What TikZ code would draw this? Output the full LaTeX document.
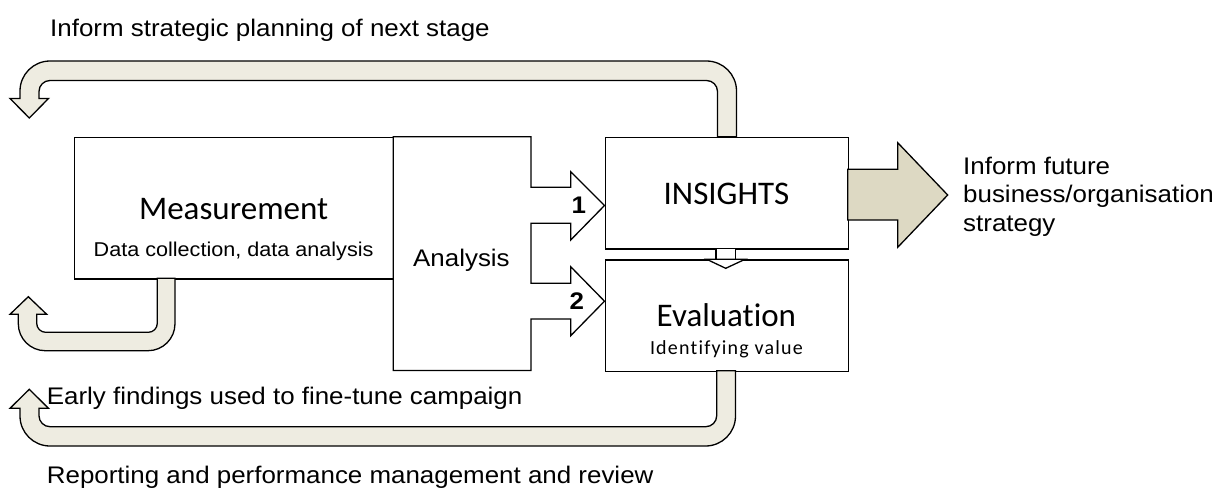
\documentclass[tikz,border=0pt]{standalone}
\usepackage{fontspec}
\newfontfamily\arialf[FakeStretch=1.08]{Liberation Sans}
\newfontfamily\calf[Ligatures=NoCommon]{Carlito}
\newfontfamily\calsp[LetterSpace=6,Ligatures=NoCommon]{Carlito}
\definecolor{bandfill}{RGB}{238,236,225}
\definecolor{bigfill}{RGB}{221,217,195}
\tikzset{
  plainbox/.style={draw=black, line width=1.3pt, fill=white, rectangle, inner sep=0pt},
  bandarrow/.style={draw=black, line width=1.3pt, fill=bandfill, line join=miter},
  bigarrow/.style={draw=black, line width=1.3pt, fill=bigfill, line join=miter},
  notched/.style={draw=black, line width=1.3pt, fill=white, line join=miter},
  lbl/.style={inner sep=0pt, anchor=base west, font={\arialf\fontsize{24}{28}\selectfont}},
  sublbl/.style={inner sep=0pt, anchor=base, font={\arialf\fontsize{20}{24}\selectfont}},
  title/.style={inner sep=0pt, anchor=base, font={\calf\fontsize{33}{38}\selectfont}},
  numlbl/.style={inner sep=0pt, anchor=base west, font={\arialf\bfseries\fontsize{24}{28}\selectfont}}
}
\begin{document}
\begin{tikzpicture}[x=1pt, y=-1pt]
\useasboundingbox (0,0) rectangle (1220,491);

% feedback loop from INSIGHTS back to the start
\path[bandarrow] (717.5,136.7) -- (717.5,91.5)
  arc[start angle=0, end angle=-90, radius=11] -- (50,80.5)
  arc[start angle=-90, end angle=-180, radius=11] -- (39,98.5)
  -- (48.5,98.5) -- (29.3,118) -- (10,98.5) -- (20,98.5) -- (20,91)
  arc[start angle=180, end angle=270, radius=30] -- (706.5,61)
  arc[start angle=270, end angle=360, radius=30] -- (736.5,136.7) -- cycle;

% boxes
\node[plainbox, anchor=north west, minimum width=319.3pt, minimum height=141.6pt] (meas) at (74,136.7) {};
\node[plainbox, anchor=north west, minimum width=242.7pt, minimum height=111.6pt] (ins) at (605,136.7) {};
\node[plainbox, anchor=north west, minimum width=242.7pt, minimum height=111.4pt] (eval) at (605,259.3) {};

% analysis block with its two outgoing arrows
\path[notched] (393.3,136.7) -- (531,136.7) -- (531,187.3) -- (570.7,187.3)
  -- (570.7,171.7) -- (604.5,205.5) -- (570.7,240) -- (570.7,223.3)
  -- (531,223.3) -- (531,283.3) -- (570.7,283.3) -- (570.7,266.7)
  -- (604.5,301.2) -- (570.7,335.7) -- (570.7,319) -- (531,319)
  -- (531,370.5) -- (393.3,370.5) -- cycle;

% big arrow to the strategy label
\path[bigarrow] (847.7,169.3) -- (897.7,169.3) -- (897.7,142.7) -- (947.7,195)
  -- (897.7,247.3) -- (897.7,220) -- (847.7,220) -- cycle;

% small arrow from INSIGHTS down to Evaluation
\path[notched] (716,248.3) rectangle (735.5,259.3);
\path[notched] (706.7,259.3) -- (745,259.3) -- (725.7,268.3) -- cycle;

% loop under Measurement
\path[bandarrow] (157.3,278.3) -- (157.3,323.3)
  arc[start angle=0, end angle=90, radius=9] -- (45.7,332.3)
  arc[start angle=90, end angle=180, radius=9] -- (36.7,314.3)
  -- (46.7,314.3) -- (28.3,296.7) -- (10,314.3) -- (18.3,314.3) -- (18.3,323.7)
  arc[start angle=180, end angle=90, radius=27] -- (148,350.7)
  arc[start angle=90, end angle=0, radius=27] -- (175,278.3) -- cycle;

% loop under Evaluation
\path[bandarrow] (716.7,370.7) -- (716.7,415.7)
  arc[start angle=0, end angle=90, radius=11] -- (50,426.7)
  arc[start angle=90, end angle=180, radius=11] -- (39,408.3)
  -- (48.5,408.3) -- (29.3,389.3) -- (10,408.3) -- (20,408.3) -- (20,416)
  arc[start angle=180, end angle=90, radius=30] -- (705.5,446)
  arc[start angle=90, end angle=0, radius=30] -- (735.5,370.7) -- cycle;

% texts
\node[lbl] (ttop) at (50,36) {Inform strategic planning of next stage};
\node[lbl] (tearly) at (46.7,404.3) {Early findings used to fine-tune campaign};
\node[lbl] (trep) at (46.7,483.3) {Reporting and performance management and review};
\node[lbl] (tr1) at (963,174.3) {Inform future};
\node[lbl] (tr2) at (963,202.7) {business/organisation};
\node[lbl] (tr3) at (963,231) {strategy};
\node[lbl] (tanl) at (413,266) {Analysis};
\node[title] (tmeas) at (233.6,219.3) {Measurement};
\node[sublbl] (tdata) at (233.6,256) {Data collection, data analysis};
\node[title] (tins) at (726.4,204) {INSIGHTS};
\node[title] (teval) at (726.4,326) {Evaluation};
\node[inner sep=0pt, anchor=base, font={\calsp\fontsize{20}{24}\selectfont}] (tval) at (726.4,354) {Identifying value};
\node[numlbl] (n1) at (571.5,213.3) {1};
\node[numlbl] (n2) at (569.5,309.3) {2};
\end{tikzpicture}
\end{document}
